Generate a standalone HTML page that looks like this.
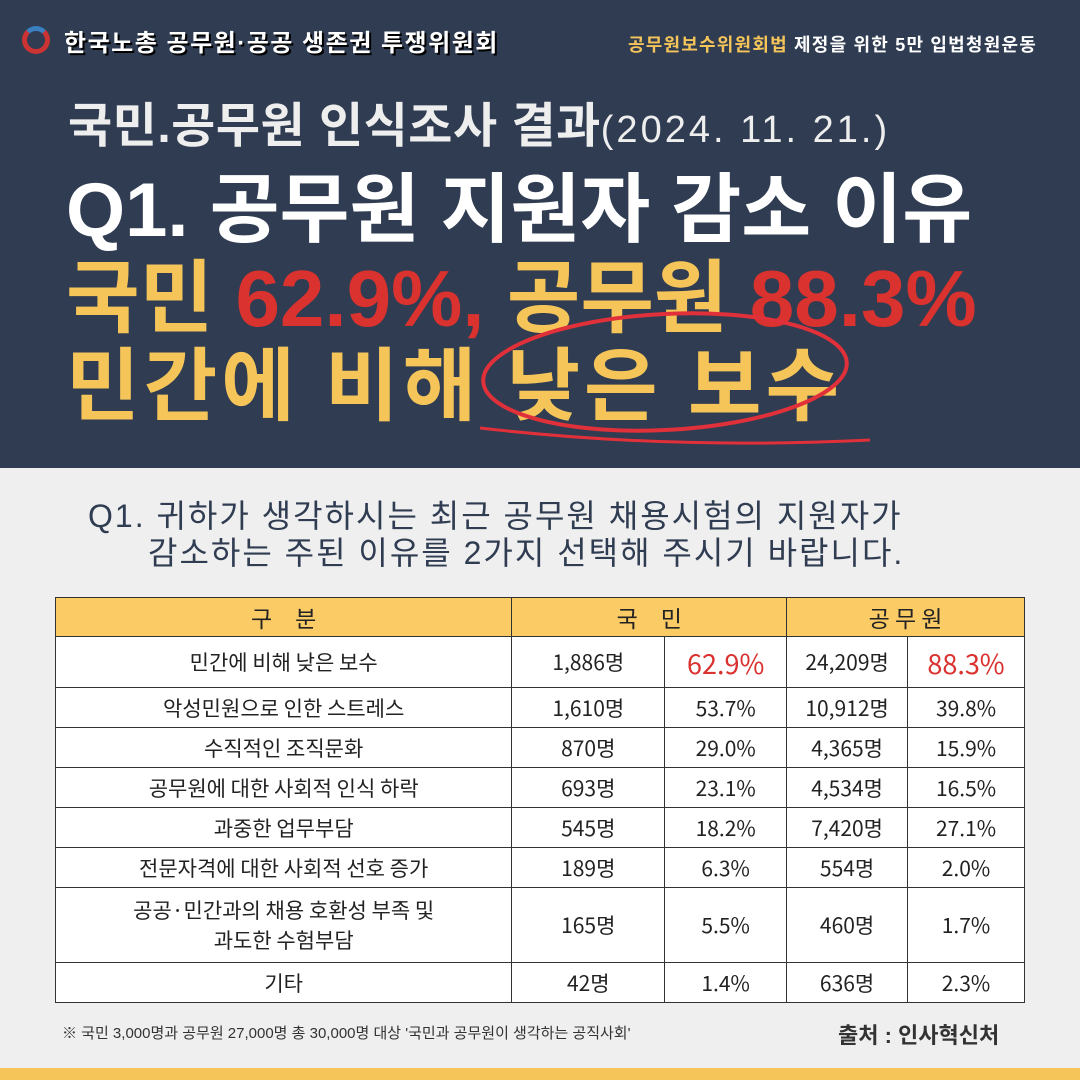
<!DOCTYPE html>
<html><head><meta charset="utf-8">
<style>
*{margin:0;padding:0;box-sizing:border-box}
body{width:1080px;height:1080px;overflow:hidden;background:#efefef;font-family:"Liberation Sans","Noto Sans CJK KR",sans-serif;position:relative}
.hdr{position:absolute;left:0;top:0;width:1080px;height:468px;background:#2f3c51}
.abs{position:absolute;white-space:nowrap}
table{position:absolute;left:55px;top:597px;width:970px;border-collapse:collapse;background:#fff;font-family:"Noto Sans CJK KR","Liberation Sans",sans-serif}
td{border:1.5px solid #333;text-align:center;font-size:21px;color:#222;height:40px;padding:0}
tr.h td{background:#fbcb66;height:39px;font-size:23px}
.red{color:#d9322f;font-size:27px}
</style></head><body>
<div class="hdr"></div>
<div class="abs" style="left:22px;top:26px;width:28px;height:28px;border-radius:50%;border:5px solid #c33;border-top-color:#3a7fc0"></div>
<div class="abs" style="left:64px;top:23px;font-size:24px;font-weight:bold;color:#fff;text-shadow:2px 2px 0 #000;letter-spacing:1.5px">한국노총 공무원·공공 생존권 투쟁위원회</div>
<div class="abs" style="left:628px;top:31px;font-size:18px;font-weight:bold;color:#fff;letter-spacing:1.2px"><span style="color:#f5c55a">공무원보수위원회법</span> 제정을 위한 5만 입법청원운동</div>
<div class="abs" style="left:68px;top:86px;font-size:48px;font-weight:bold;color:#eee;letter-spacing:0.5px">국민.공무원 인식조사 결과<span style="font-size:38px;font-weight:normal;letter-spacing:3px">(2024. 11. 21.)</span></div>
<div class="abs" style="left:66px;top:148px;font-size:76px;font-weight:bold;color:#fff">Q1. 공무원 지원자 감소 이유</div>
<div class="abs" style="left:66px;top:234px;font-size:80px;font-weight:bold;color:#f5c55a">국민 <span style="color:#d9322f">62.9%,</span> 공무원 <span style="color:#d9322f">88.3%</span></div>
<div class="abs" style="left:66px;top:322px;font-size:80px;font-weight:bold;color:#f5c55a;letter-spacing:4px">민간에 비해 낮은 보수</div>
<svg class="abs" style="left:470px;top:300px" width="420" height="160"><ellipse cx="195" cy="72" rx="182" ry="58" fill="none" stroke="#e0303a" stroke-width="4" transform="rotate(-3 195 72)"/><path d="M10 128 Q200 150 400 140" fill="none" stroke="#e0303a" stroke-width="3"/></svg>
<div class="abs" style="left:88px;top:498px;font-size:32px;color:#2f3c51;line-height:37px;letter-spacing:2px">Q1. 귀하가 생각하시는 최근 공무원 채용시험의 지원자가<br><span style="padding-left:60px">감소하는 주된 이유를 2가지 선택해 주시기 바랍니다.</span></div>
<table>
<colgroup><col style="width:457px"><col style="width:153px"><col style="width:122px"><col style="width:121px"><col style="width:117px"></colgroup>
<tr class="h"><td>구　분</td><td colspan="2">국　민</td><td colspan="2">공 무 원</td></tr>
<tr style="height:51px"><td>민간에 비해 낮은 보수</td><td>1,886명</td><td class="red">62.9%</td><td>24,209명</td><td class="red">88.3%</td></tr>
<tr><td>악성민원으로 인한 스트레스</td><td>1,610명</td><td>53.7%</td><td>10,912명</td><td>39.8%</td></tr>
<tr><td>수직적인 조직문화</td><td>870명</td><td>29.0%</td><td>4,365명</td><td>15.9%</td></tr>
<tr><td>공무원에 대한 사회적 인식 하락</td><td>693명</td><td>23.1%</td><td>4,534명</td><td>16.5%</td></tr>
<tr><td>과중한 업무부담</td><td>545명</td><td>18.2%</td><td>7,420명</td><td>27.1%</td></tr>
<tr><td>전문자격에 대한 사회적 선호 증가</td><td>189명</td><td>6.3%</td><td>554명</td><td>2.0%</td></tr>
<tr style="height:75px"><td style="line-height:30px">공공·민간과의 채용 호환성 부족 및<br>과도한 수험부담</td><td>165명</td><td>5.5%</td><td>460명</td><td>1.7%</td></tr>
<tr><td>기타</td><td>42명</td><td>1.4%</td><td>636명</td><td>2.3%</td></tr>
</table>
<div class="abs" style="left:62px;top:1022px;font-size:15px;color:#333">※ 국민 3,000명과 공무원 27,000명 총 30,000명 대상 '국민과 공무원이 생각하는 공직사회'</div>
<div class="abs" style="left:838px;top:1018px;font-size:22px;font-weight:bold;color:#333">출처 : 인사혁신처</div>
<div class="abs" style="left:0;top:1068px;width:1080px;height:12px;background:#f5c55a"></div>
</body></html>
